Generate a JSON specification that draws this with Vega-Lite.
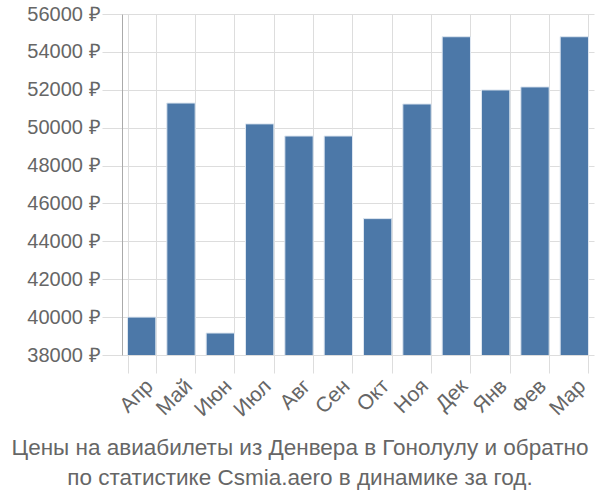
{
  "$schema": "https://vega.github.io/schema/vega-lite/v6.json",
  "width": 472,
  "height": 341,
  "autosize": "none",
  "padding": {"left": 122, "top": 14, "right": 6, "bottom": 145},
  "background": "white",
  "data": {
    "values": [
      {"month": "Апр", "price": 40000},
      {"month": "Май", "price": 51300},
      {"month": "Июн", "price": 39160},
      {"month": "Июл", "price": 50200},
      {"month": "Авг", "price": 49560},
      {"month": "Сен", "price": 49560},
      {"month": "Окт", "price": 45200},
      {"month": "Ноя", "price": 51250},
      {"month": "Дек", "price": 54800},
      {"month": "Янв", "price": 51990},
      {"month": "Фев", "price": 52150},
      {"month": "Мар", "price": 54800}
    ]
  },
  "title": {
    "text": ["Цены на авиабилеты из Денвера в Гонолулу и обратно", "по статистике Csmia.aero в динамике за год."],
    "orient": "bottom",
    "anchor": "middle",
    "dx": -58,
    "offset": 17,
    "font": "Liberation Sans",
    "fontSize": 22.5,
    "fontWeight": "normal",
    "color": "#666666",
    "lineHeight": 30
  },
  "mark": {"type": "bar", "color": "#4c78a8", "stroke": "#dde6f0", "strokeWidth": 1, "clip": true},
  "encoding": {
    "x": {
      "field": "month",
      "type": "nominal",
      "sort": null,
      "scale": {"paddingInner": 0.28, "paddingOuter": 0.14},
      "axis": {
        "title": null,
        "labelAngle": -45,
        "labelFont": "Liberation Sans",
        "labelFontSize": 21,
        "labelColor": "#666666",
        "tickBand": "extent",
        "grid": true,
        "gridColor": "#dddddd",
        "tickColor": "#dddddd",
        "tickSize": 18,
        "domain": false,
        "labelPadding": 2
      }
    },
    "y": {
      "field": "price",
      "type": "quantitative",
      "scale": {"domain": [38000, 56000], "nice": false, "zero": false},
      "axis": {
        "title": null,
        "values": [38000, 40000, 42000, 44000, 46000, 48000, 50000, 52000, 54000, 56000],
        "labelExpr": "datum.value + ' ₽'",
        "labelFont": "Liberation Sans",
        "labelFontSize": 20,
        "labelColor": "#666666",
        "grid": true,
        "gridColor": "#dddddd",
        "tickColor": "#dddddd",
        "tickSize": 20,
        "domain": true,
        "domainColor": "#aaaaaa",
        "labelPadding": 2
      }
    }
  },
  "config": {"view": {"stroke": null}}
}
